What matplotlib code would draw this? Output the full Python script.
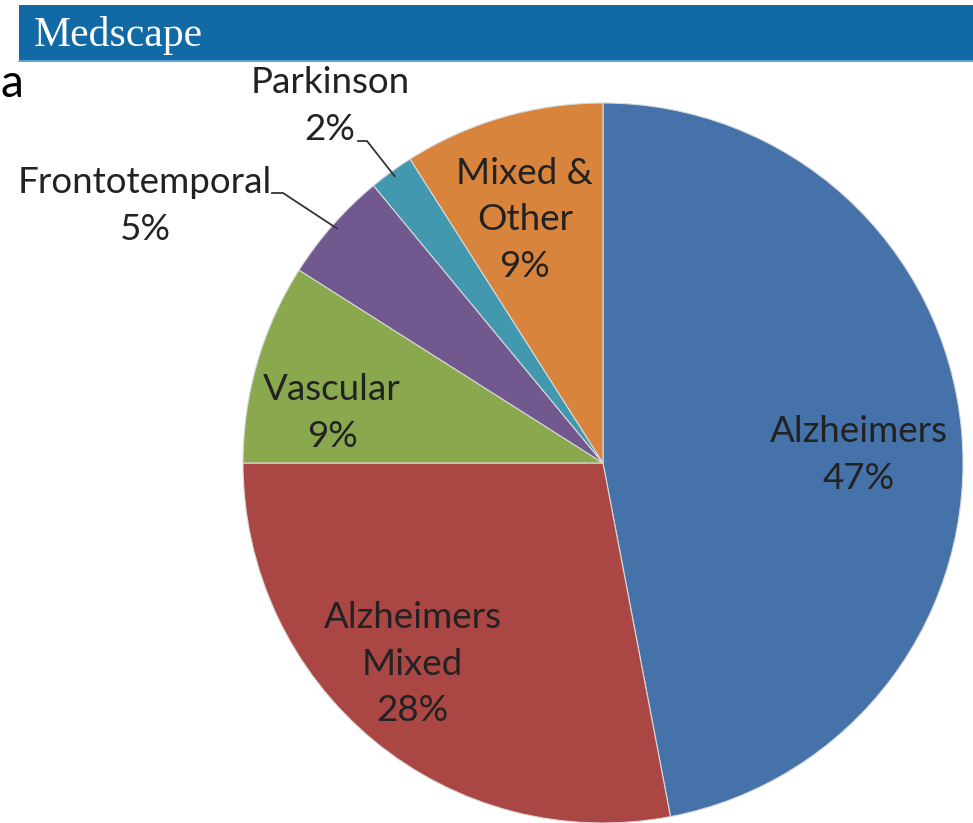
import numpy as np
import matplotlib
matplotlib.use("Agg")
import matplotlib.pyplot as plt
from matplotlib.patches import Rectangle

# data (clockwise from 12 o'clock)
labels = ["Alzheimers", "Alzheimers\nMixed", "Vascular", "Frontotemporal", "Parkinson", "Mixed &\nOther"]
shares = [47, 28, 9, 5, 2, 9]
colors = ["#4572a8", "#aa4643", "#8aa84e", "#71588f", "#4198af", "#d9843d"]

plt.rcParams['font.family'] = ['Lato', 'DejaVu Sans']

W, H = 973, 823
fig = plt.figure(figsize=(W / 100, H / 100), dpi=100)
ax = fig.add_axes([0, 0, 1, 1])

cx, cy, R = 603, H - 463, 360
wedges, _ = ax.pie(shares, colors=colors, startangle=90, counterclock=False,
                   center=(cx, cy), radius=R,
                   wedgeprops=dict(edgecolor="#d8d8d8", linewidth=0.8))
ax.set_xlim(0, W)
ax.set_ylim(0, H)
ax.set_aspect("equal")
ax.axis("off")

FS = 26.5
LS = 1.5
# inside labels: (radius factor, angle tweak in degrees)
inside = {0: (0.71, -3.6), 1: (0.77, -3.8), 2: (0.765, 5.7), 5: (0.71, 1.6)}
# outside labels: text centre (px from top-left) and leader start
outside = {3: ((145, 206), (272, 193), (283, 193)),
           4: ((330, 106), (358, 141), (367, 141))}

for i, w in enumerate(wedges):
    mid = np.deg2rad((w.theta1 + w.theta2) / 2)
    txt = f"{labels[i]}\n{shares[i]}%"
    if i in inside:
        rf, tw = inside[i]
        a = mid + np.deg2rad(tw)
        ax.text(cx + rf * R * np.cos(a), cy + rf * R * np.sin(a), txt,
                ha="center", va="center", fontsize=FS, color="#222222",
                linespacing=LS)
    else:
        (tx, ty), (lx0, ly0), (lx1, ly1) = outside[i]
        ax.text(tx, H - ty, txt, ha="center", va="center", fontsize=FS,
                color="#222222", linespacing=LS)
        ex, ey = cx + 0.985 * R * np.cos(mid), cy + 0.985 * R * np.sin(mid)
        ax.plot([lx0, lx1, ex], [H - ly0, H - ly1, ey], color="#333333", lw=1.3)

# Medscape header bar
ax.add_patch(Rectangle((19, H - 62), W - 19, 57, facecolor="#116aa6", edgecolor="none"))
ax.plot([19, W], [H - 61, H - 61], color="#6fb2dc", lw=1.2)
ax.text(34, H - 46, "Medscape", family="Liberation Serif", fontsize=30,
        color="white", ha="left", va="baseline")

# panel letter
ax.text(1, H - 97, "a", fontsize=33, color="black", ha="left", va="baseline")

fig.savefig("out.png", dpi=100)
